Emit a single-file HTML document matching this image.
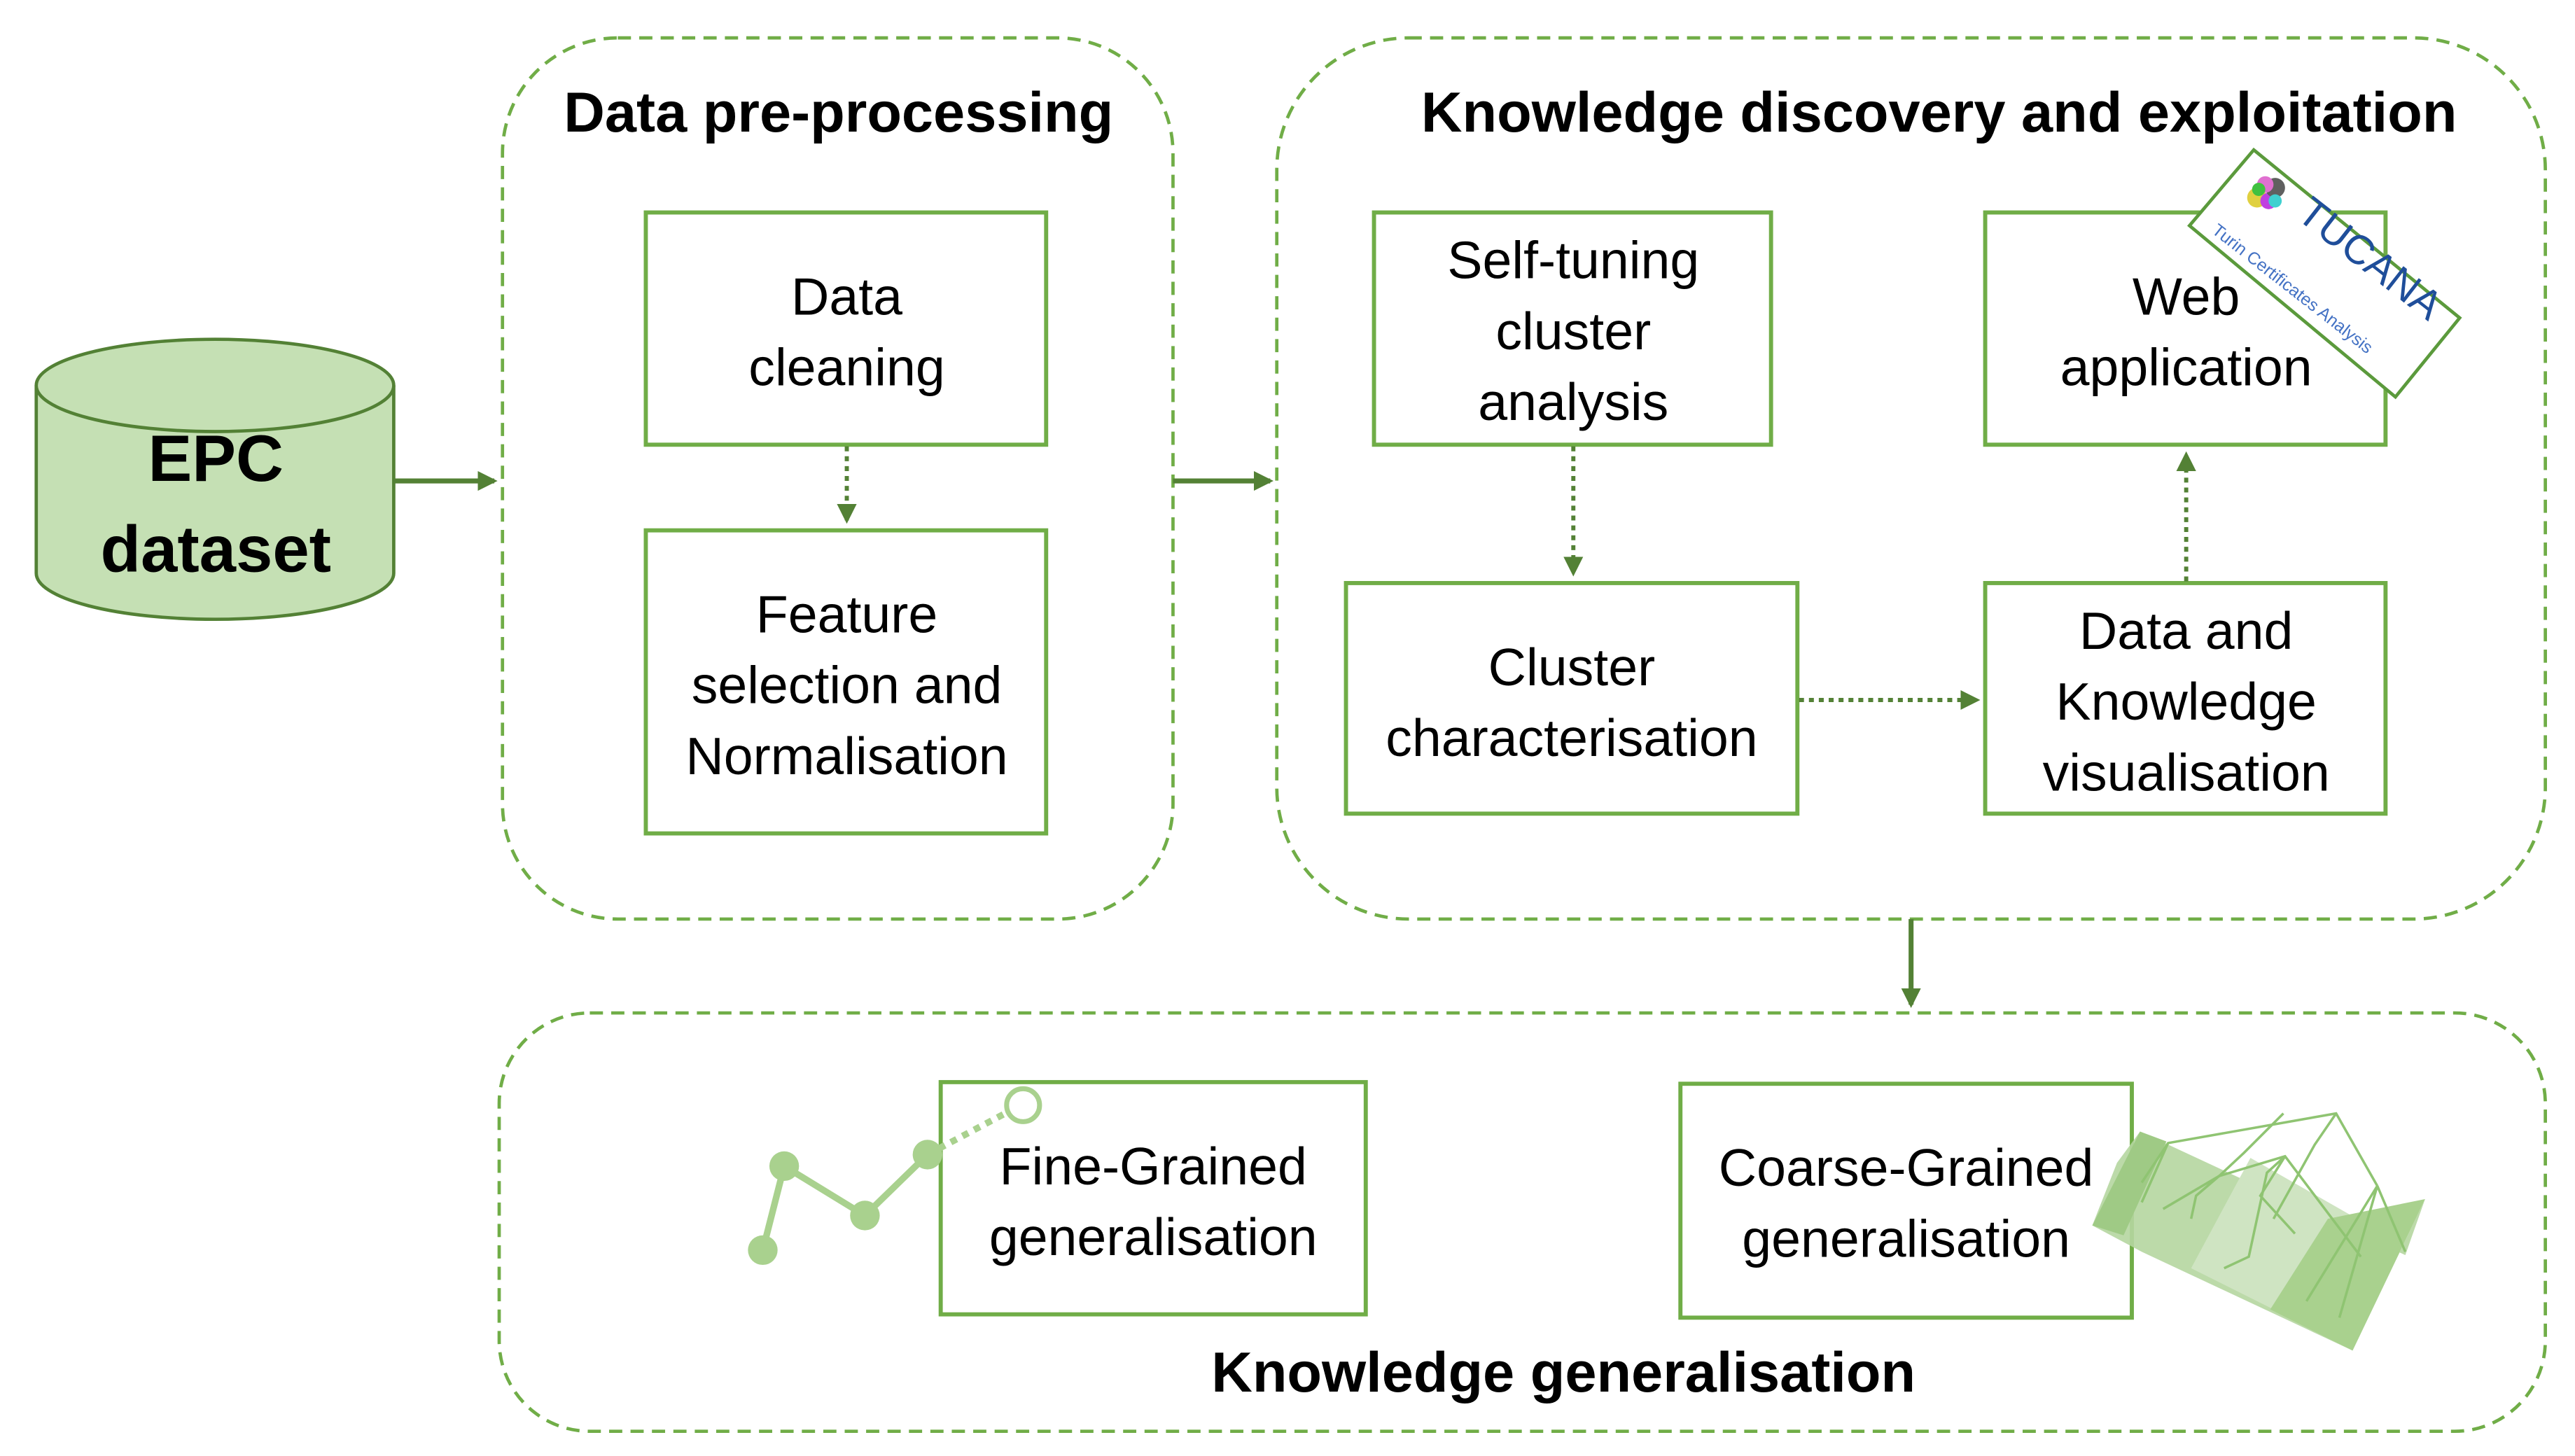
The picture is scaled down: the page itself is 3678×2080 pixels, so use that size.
<!DOCTYPE html>
<html><head><meta charset="utf-8"><style>
html,body{margin:0;padding:0;background:#fff;}
svg{display:block;}
text{font-family:"Liberation Sans",sans-serif;}
</style></head><body>
<svg width="3678" height="2080" viewBox="0 0 1563 884" preserveAspectRatio="none" xmlns="http://www.w3.org/2000/svg">
<defs>
<marker id="ah2" markerWidth="12" markerHeight="12" refX="10" refY="6" orient="auto" markerUnits="userSpaceOnUse"><path d="M0,0 L12,6 L0,12 z" fill="#538135"/></marker>
</defs>
<g fill="none" stroke="#70ad47" stroke-width="2" stroke-dasharray="8,5">
<rect x="305" y="23" width="407" height="535" rx="70"/>
<rect x="775" y="23" width="770" height="535" rx="80"/>
<rect x="303" y="615" width="1242" height="254" rx="55"/>
</g>
<path d="M22,234 L22,348 A108.5,28 0 0 0 239,348 L239,234" fill="#c5e0b4" stroke="#538135" stroke-width="2"/>
<ellipse cx="130.5" cy="234" rx="108.5" ry="28" fill="#c5e0b4" stroke="#538135" stroke-width="2"/>
<text x="131" y="292" font-size="40" font-weight="bold" text-anchor="middle">EPC</text>
<text x="131" y="347" font-size="40" font-weight="bold" text-anchor="middle">dataset</text>
<text x="509" y="80" font-size="34.5" font-weight="bold" text-anchor="middle">Data pre-processing</text>
<text x="1177" y="80" font-size="34.5" font-weight="bold" text-anchor="middle">Knowledge discovery and exploitation</text>
<text x="949" y="845" font-size="34.5" font-weight="bold" text-anchor="middle">Knowledge generalisation</text>
<g fill="#fff" stroke="#70ad47" stroke-width="2.5">
<rect x="392" y="129" width="243" height="141"/>
<rect x="392" y="322" width="243" height="184"/>
<rect x="834" y="129" width="241" height="141"/>
<rect x="817" y="354" width="274" height="140"/>
<rect x="1205" y="129" width="243" height="141"/>
<rect x="1205" y="354" width="243" height="140"/>
<rect x="571" y="657" width="258" height="141"/>
<rect x="1020" y="658" width="274" height="142"/>
</g>
<g font-size="32" text-anchor="middle" fill="#000">
<text x="514" y="191">Data</text><text x="514" y="234">cleaning</text>
<text x="514" y="384">Feature</text><text x="514" y="427">selection and</text><text x="514" y="470">Normalisation</text>
<text x="955" y="169">Self-tuning</text><text x="955" y="212">cluster</text><text x="955" y="255">analysis</text>
<text x="954" y="416">Cluster</text><text x="954" y="459">characterisation</text>
<text x="1327" y="191">Web</text><text x="1327" y="234">application</text>
<text x="1327" y="394">Data and</text><text x="1327" y="437">Knowledge</text><text x="1327" y="480">visualisation</text>
<text x="700" y="719">Fine-Grained</text><text x="700" y="762">generalisation</text>
<text x="1157" y="720">Coarse-Grained</text><text x="1157" y="763">generalisation</text>
</g>
<g stroke="#538135" stroke-width="3" fill="none">
<line x1="239" y1="292" x2="300" y2="292" marker-end="url(#ah2)"/>
<line x1="712" y1="292" x2="771" y2="292" marker-end="url(#ah2)"/>
<line x1="1160" y1="558" x2="1160" y2="610" marker-end="url(#ah2)"/>
</g>
<g stroke="#538135" stroke-width="2.5" fill="none" stroke-dasharray="3,3">
<line x1="514" y1="271" x2="514" y2="316" marker-end="url(#ah2)"/>
<line x1="955" y1="271" x2="955" y2="348" marker-end="url(#ah2)"/>
<line x1="1092" y1="425" x2="1200" y2="425" marker-end="url(#ah2)"/>
<line x1="1327" y1="353" x2="1327" y2="276" marker-end="url(#ah2)"/>
</g>
<g stroke="#a9d18e" stroke-width="4" fill="#a9d18e">
<polyline points="463,759 476,708 525,738 563,701" fill="none"/>
<line x1="563" y1="701" x2="612" y2="675" stroke-dasharray="4,4"/>
<circle cx="463" cy="759" r="9" stroke="none"/>
<circle cx="476" cy="708" r="9" stroke="none"/>
<circle cx="525" cy="738" r="9" stroke="none"/>
<circle cx="563" cy="701" r="9" stroke="none"/>
<circle cx="621" cy="671" r="10" fill="#fff" stroke-width="3"/>
</g>
<g>
<polygon points="1270,744 1285,706 1299,687 1460,762 1472,728 1428,820 1300,760" fill="#b5d6a0" opacity="0.9"/>
<polygon points="1366,703 1450,751 1410,810 1330,770" fill="#cfe4c2"/>
<polygon points="1270,744 1299,687 1315,693 1289,750" fill="#9fca85"/>
<polygon points="1413,740 1472,728 1428,820 1378,795" fill="#a9d18e"/>
<g stroke="#8fc472" stroke-width="1.5" fill="none">
<polyline points="1313,734 1347,714 1387,702 1433,763"/>
<polyline points="1347,714 1333,726 1330,740"/>
<polyline points="1387,702 1376,712 1365,763 1350,770"/>
<polyline points="1387,702 1372,726 1393,749"/>
<polyline points="1347,714 1362,700 1386,676"/>
<polyline points="1300,718 1316,694 1418,676 1443,720"/>
<polyline points="1418,676 1405,695 1380,740"/>
<line x1="1443" y1="720" x2="1400" y2="790"/><line x1="1443" y1="720" x2="1420" y2="800"/>
<line x1="1443" y1="720" x2="1460" y2="760"/>
<line x1="1316" y1="694" x2="1300" y2="730"/>
</g>
</g>
<polygon points="1368,91 1493,193 1454,241 1329,137" fill="#fff" stroke="#5b9a3c" stroke-width="2"/>
<g transform="translate(1373,118)">
<circle cx="-3" cy="2" r="6" fill="#e0d040"/><circle cx="4" cy="4" r="5" fill="#c040e0"/><circle cx="8" cy="-4" r="6" fill="#606060"/><circle cx="2" cy="-6" r="5" fill="#e070d0"/><circle cx="-2" cy="-3" r="4" fill="#40c040"/><circle cx="8" cy="4" r="4" fill="#40d0d0"/>
</g>
<text transform="translate(1393,132) rotate(38)" font-size="25" fill="#1f4e9a">TUCANA</text>
<text transform="translate(1342,141) rotate(38)" font-size="10.5" fill="#4472c4">Turin Certificates Analysis</text>
</svg>
</body></html>
